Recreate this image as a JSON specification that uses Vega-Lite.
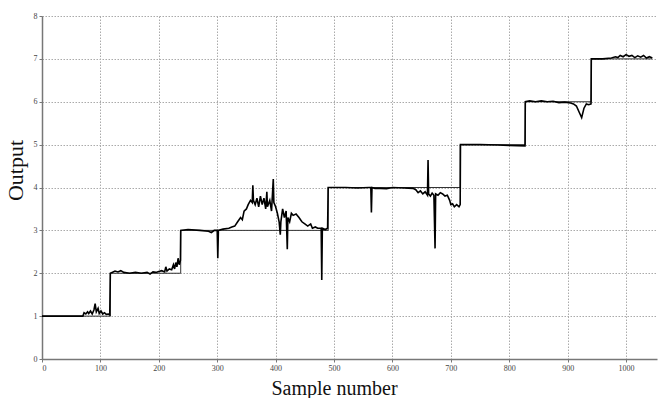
{
  "$schema": "https://vega.github.io/schema/vega-lite/v6.json",
  "width": 615,
  "height": 343,
  "autosize": {"type": "none"},
  "padding": {"left": 42, "top": 16, "right": 2, "bottom": 39},
  "background": "white",
  "config": {
    "view": {"stroke": null},
    "font": "Liberation Serif",
    "axis": {
      "domainColor": "#777",
      "domainWidth": 1.5,
      "tickColor": "#777",
      "tickSize": 3,
      "labelFont": "Liberation Serif",
      "labelFontSize": 8,
      "labelColor": "#444",
      "titleFont": "Liberation Serif",
      "titleFontWeight": "normal",
      "titleColor": "#111",
      "gridColor": "#aaa",
      "gridDash": [1.5, 1.5],
      "gridWidth": 1
    }
  },
  "datasets": {
    "output": [
      {"x": 0, "y": 1.0}, {"x": 70, "y": 1.0}, {"x": 72, "y": 1.08}, {"x": 75, "y": 1.05}, {"x": 78, "y": 1.1}, {"x": 80, "y": 1.06}, {"x": 83, "y": 1.12}, {"x": 86, "y": 1.05}, {"x": 89, "y": 1.15}, {"x": 91, "y": 1.29}, {"x": 93, "y": 1.1}, {"x": 96, "y": 1.18}, {"x": 98, "y": 1.06}, {"x": 101, "y": 1.12}, {"x": 104, "y": 1.05}, {"x": 107, "y": 1.08}, {"x": 110, "y": 1.04}, {"x": 114, "y": 1.05}, {"x": 116, "y": 1.03}, {"x": 117, "y": 2.0},
      {"x": 120, "y": 2.02}, {"x": 125, "y": 2.05}, {"x": 130, "y": 2.03}, {"x": 135, "y": 2.06}, {"x": 140, "y": 2.02}, {"x": 150, "y": 2.0}, {"x": 160, "y": 2.02}, {"x": 170, "y": 2.0}, {"x": 180, "y": 2.02}, {"x": 185, "y": 1.98}, {"x": 190, "y": 2.03}, {"x": 195, "y": 2.02}, {"x": 200, "y": 2.04}, {"x": 205, "y": 2.06}, {"x": 210, "y": 2.03}, {"x": 212, "y": 2.15}, {"x": 214, "y": 2.05}, {"x": 218, "y": 2.1}, {"x": 222, "y": 2.08}, {"x": 225, "y": 2.2}, {"x": 227, "y": 2.1}, {"x": 229, "y": 2.25}, {"x": 231, "y": 2.15}, {"x": 233, "y": 2.35}, {"x": 235, "y": 2.2}, {"x": 237, "y": 2.3}, {"x": 237.5, "y": 3.0},
      {"x": 250, "y": 3.02}, {"x": 270, "y": 3.0}, {"x": 285, "y": 2.98}, {"x": 290, "y": 2.95}, {"x": 295, "y": 3.0}, {"x": 300, "y": 3.0}, {"x": 301, "y": 2.35}, {"x": 302, "y": 3.0}, {"x": 310, "y": 3.03}, {"x": 320, "y": 3.05}, {"x": 325, "y": 3.08}, {"x": 330, "y": 3.1}, {"x": 335, "y": 3.2}, {"x": 340, "y": 3.3}, {"x": 343, "y": 3.25}, {"x": 346, "y": 3.45}, {"x": 350, "y": 3.5}, {"x": 353, "y": 3.6}, {"x": 357, "y": 3.7}, {"x": 360, "y": 3.65}, {"x": 361, "y": 4.05}, {"x": 362, "y": 3.7}, {"x": 365, "y": 3.6}, {"x": 368, "y": 3.75}, {"x": 371, "y": 3.55}, {"x": 374, "y": 3.8}, {"x": 377, "y": 3.6}, {"x": 380, "y": 3.75}, {"x": 383, "y": 3.5}, {"x": 385, "y": 3.9}, {"x": 386, "y": 3.55}, {"x": 390, "y": 3.7}, {"x": 393, "y": 3.45}, {"x": 396, "y": 4.2}, {"x": 397, "y": 3.65}, {"x": 400, "y": 3.55}, {"x": 403, "y": 3.4}, {"x": 406, "y": 3.2}, {"x": 408, "y": 2.9}, {"x": 409, "y": 3.2}, {"x": 412, "y": 3.5}, {"x": 415, "y": 3.3}, {"x": 418, "y": 3.45}, {"x": 420, "y": 2.56}, {"x": 421, "y": 3.3}, {"x": 424, "y": 3.2}, {"x": 427, "y": 3.4}, {"x": 430, "y": 3.35}, {"x": 435, "y": 3.38}, {"x": 440, "y": 3.3}, {"x": 445, "y": 3.2}, {"x": 450, "y": 3.15}, {"x": 455, "y": 3.1}, {"x": 460, "y": 3.15}, {"x": 463, "y": 3.05}, {"x": 468, "y": 3.08}, {"x": 472, "y": 3.05}, {"x": 478, "y": 3.05}, {"x": 479, "y": 1.84}, {"x": 480, "y": 3.05}, {"x": 485, "y": 3.02}, {"x": 489, "y": 3.05}, {"x": 490, "y": 4.0},
      {"x": 500, "y": 4.0}, {"x": 520, "y": 4.0}, {"x": 540, "y": 3.99}, {"x": 560, "y": 4.0}, {"x": 563, "y": 4.0}, {"x": 564, "y": 3.42}, {"x": 565, "y": 4.0}, {"x": 570, "y": 3.98}, {"x": 580, "y": 3.98}, {"x": 590, "y": 3.97}, {"x": 600, "y": 4.0}, {"x": 620, "y": 3.99}, {"x": 635, "y": 3.98}, {"x": 640, "y": 3.95}, {"x": 644, "y": 3.88}, {"x": 648, "y": 3.92}, {"x": 652, "y": 3.85}, {"x": 656, "y": 3.9}, {"x": 660, "y": 3.82}, {"x": 661, "y": 4.64}, {"x": 662, "y": 3.85}, {"x": 665, "y": 3.8}, {"x": 668, "y": 3.87}, {"x": 671, "y": 3.82}, {"x": 673, "y": 2.58}, {"x": 674, "y": 3.85}, {"x": 678, "y": 3.82}, {"x": 682, "y": 3.88}, {"x": 686, "y": 3.85}, {"x": 690, "y": 3.8}, {"x": 694, "y": 3.82}, {"x": 698, "y": 3.7}, {"x": 700, "y": 3.6}, {"x": 703, "y": 3.62}, {"x": 706, "y": 3.55}, {"x": 710, "y": 3.6}, {"x": 714, "y": 3.55}, {"x": 716, "y": 3.6}, {"x": 716.5, "y": 5.0},
      {"x": 720, "y": 5.0}, {"x": 750, "y": 5.0}, {"x": 780, "y": 4.99}, {"x": 800, "y": 4.98}, {"x": 827, "y": 4.97}, {"x": 827.5, "y": 6.0},
      {"x": 835, "y": 6.02}, {"x": 845, "y": 6.0}, {"x": 855, "y": 6.02}, {"x": 865, "y": 6.0}, {"x": 875, "y": 6.01}, {"x": 885, "y": 5.98}, {"x": 895, "y": 5.99}, {"x": 905, "y": 5.97}, {"x": 910, "y": 5.95}, {"x": 915, "y": 5.9}, {"x": 920, "y": 5.75}, {"x": 924, "y": 5.63}, {"x": 928, "y": 5.85}, {"x": 932, "y": 5.95}, {"x": 936, "y": 5.93}, {"x": 940, "y": 5.95}, {"x": 940.5, "y": 7.0},
      {"x": 960, "y": 7.0}, {"x": 975, "y": 7.02}, {"x": 982, "y": 7.05}, {"x": 986, "y": 7.03}, {"x": 990, "y": 7.08}, {"x": 995, "y": 7.05}, {"x": 1000, "y": 7.1}, {"x": 1005, "y": 7.06}, {"x": 1010, "y": 7.08}, {"x": 1015, "y": 7.03}, {"x": 1020, "y": 7.07}, {"x": 1025, "y": 7.04}, {"x": 1030, "y": 7.08}, {"x": 1035, "y": 7.02}, {"x": 1040, "y": 7.05}, {"x": 1045, "y": 7.02}
    ],
    "setpoint": [
      {"x": 0, "y": 1}, {"x": 117, "y": 2}, {"x": 237.5, "y": 3}, {"x": 490, "y": 4}, {"x": 716, "y": 5}, {"x": 827.5, "y": 6}, {"x": 940.5, "y": 7}, {"x": 1045, "y": 7}
    ]
  },
  "layer": [
    {
      "data": {"name": "setpoint"},
      "mark": {"type": "line", "interpolate": "step-after", "color": "#333", "strokeWidth": 1},
      "encoding": {
        "x": {"field": "x", "type": "quantitative", "scale": {"domain": [0, 1053], "nice": false},
          "axis": {"values": [0,100,200,300,400,500,600,700,800,900,1000], "format": "d", "title": "Sample number", "titleFontSize": 20, "titleBaseline": "alphabetic", "titleY": 35, "titleX": 292, "labelPadding": 2}},
        "y": {"field": "y", "type": "quantitative", "scale": {"domain": [0, 8], "nice": false},
          "axis": {"values": [0,1,2,3,4,5,6,7,8], "title": "Output", "titleFontSize": 22, "titleX": -15, "titleY": 154, "labelPadding": 2}}
      }
    },
    {
      "data": {"name": "output"},
      "mark": {"type": "line", "color": "#000", "strokeWidth": 1.6},
      "encoding": {
        "x": {"field": "x", "type": "quantitative"},
        "y": {"field": "y", "type": "quantitative"}
      }
    }
  ]
}
